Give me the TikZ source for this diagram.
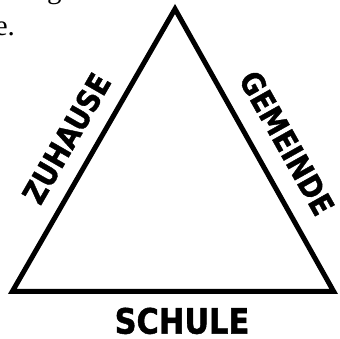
\documentclass[tikz,border=0pt]{standalone}
\usepackage{fontspec}
\setmainfont{Liberation Serif}
\newfontfamily\labelfont[FakeStretch=0.87,FakeBold=1.2]{DejaVu Sans}
\usepackage{tikz}
\tikzset{
  side/.style={line width=5pt,line join=miter,black},
  sidelabel/.style={font=\labelfont\bfseries\fontsize{31}{31}\selectfont,inner sep=0pt,sloped},
  baselabel/.style={font=\labelfont\bfseries\fontsize{35}{35}\selectfont,inner sep=0pt},
  scantext/.style={font=\fontsize{29}{29}\selectfont,inner sep=0pt,anchor=base west}
}
\begin{document}
\begin{tikzpicture}[x=1pt,y=1pt]
  \useasboundingbox (0,0) rectangle (340,339);
  \coordinate (top) at (175,330);
  \coordinate (left) at (12.3,47.5);
  \coordinate (right) at (333.7,47.5);
  \draw[side] (left) -- (top) -- (right) -- cycle;
  \path (left) -- (top) node[sidelabel,pos=0.49,above=17.5pt] (home) {ZUHAUSE};
  \path (top) -- (right) node[sidelabel,pos=0.53,above=20pt] (town) {GEMEINDE};
  \path (left) -- (right) node[baselabel,pos=0.528,below=16pt] (school) {SCHULE};
  % bits of the surrounding page text
  \node[scantext] (line1) at (47,340) {g};
  \node[scantext] (line2) at (-5.4,303) {e.};
\end{tikzpicture}
\end{document}
